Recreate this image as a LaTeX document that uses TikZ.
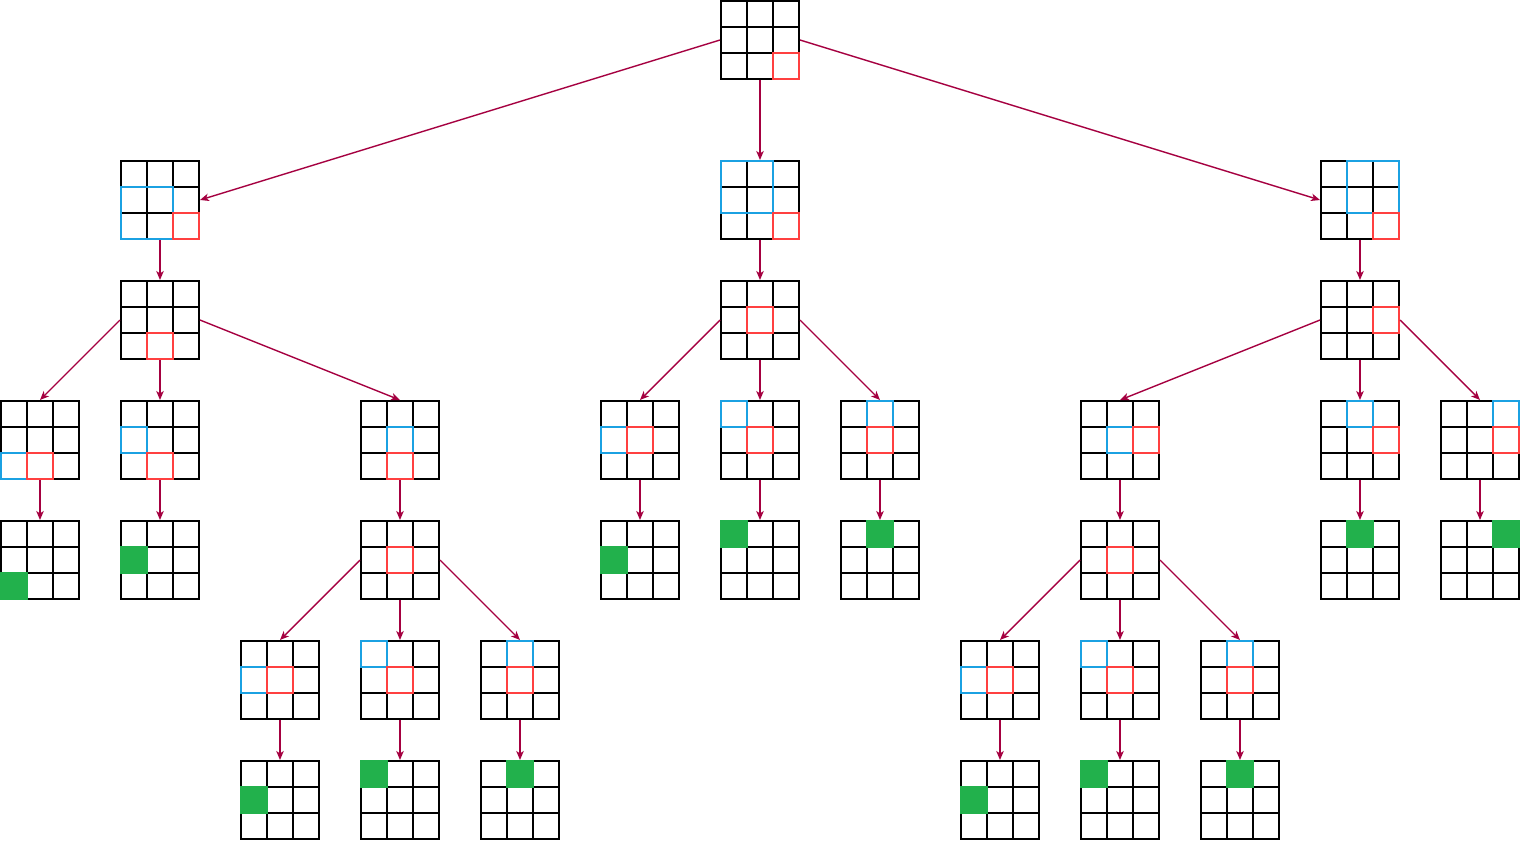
\documentclass[tikz,border=0pt]{standalone}
\usetikzlibrary{arrows.meta, positioning, calc}
\definecolor{edgewine}{RGB}{165, 0, 64}
\definecolor{cellred}{RGB}{255, 64, 64}
\definecolor{cellblue}{RGB}{27, 161, 226}
\definecolor{cellgreen}{RGB}{34, 177, 76}
\tikzset{
  >=Stealth,
  board/.style={draw, line width=2pt, minimum size=78pt, inner sep=0pt,
    path picture={
      \foreach \k in {-13,13} {
        \draw[line width=1.6pt] ([xshift=\k pt]path picture bounding box.north) -- ([xshift=\k pt]path picture bounding box.south);
        \draw[line width=1.6pt] ([yshift=\k pt]path picture bounding box.west) -- ([yshift=\k pt]path picture bounding box.east);
      }}},
  move/.style={-{Stealth[length=9pt, width=7.5pt, inset=2.5pt]}, line width=1.4pt, edgewine},
  redcell/.style={draw=cellred, line width=2pt},
  bluecell/.style={draw=cellblue, line width=2pt},
  greencell/.style={fill=cellgreen, draw=cellgreen, line width=1.2pt}
}
% cell (col,row) of a board, row 0 on top; optional size in cells
\newcommand{\cellat}[5][1]{\draw[#5] ($(#2.center)+(-39+26*#3,-39+26*#4)$) rectangle +(26*#1,26*#1);}

\begin{document}
\begin{tikzpicture}[x=1pt, y=-1pt]
    \useasboundingbox (0,0) rectangle (1521,841);
    % top and first split
    \node (root) [board] at (760,40) {};
    \node (a1) [board] at (160,200) {};
    \node (b1) [board, below=80pt of root] {};
    \node (c1) [board] at (1360,200) {};
    \node (a2) [board, below=40pt of a1] {};
    \node (b2) [board, below=40pt of b1] {};
    \node (c2) [board, below=40pt of c1] {};
    % left branch
    \node (a3m) [board, below=40pt of a2] {};
    \node (a3l) [board, left=40pt of a3m] {};
    \node (a3r) [board, right=160pt of a3m] {};
    \node (a4l) [board, below=40pt of a3l] {};
    \node (a4m) [board, below=40pt of a3m] {};
    \node (a4r) [board, below=40pt of a3r] {};
    \node (a5m) [board, below=40pt of a4r] {};
    \node (a5l) [board, left=40pt of a5m] {};
    \node (a5r) [board, right=40pt of a5m] {};
    \node (a6l) [board, below=40pt of a5l] {};
    \node (a6m) [board, below=40pt of a5m] {};
    \node (a6r) [board, below=40pt of a5r] {};
    % middle branch
    \node (b3m) [board, below=40pt of b2] {};
    \node (b3l) [board, left=40pt of b3m] {};
    \node (b3r) [board, right=40pt of b3m] {};
    \node (b4l) [board, below=40pt of b3l] {};
    \node (b4m) [board, below=40pt of b3m] {};
    \node (b4r) [board, below=40pt of b3r] {};
    % right branch
    \node (c3m) [board, below=40pt of c2] {};
    \node (c3l) [board, left=160pt of c3m] {};
    \node (c3r) [board, right=40pt of c3m] {};
    \node (c4l) [board, below=40pt of c3l] {};
    \node (c4m) [board, below=40pt of c3m] {};
    \node (c4r) [board, below=40pt of c3r] {};
    \node (c5m) [board, below=40pt of c4l] {};
    \node (c5l) [board, left=40pt of c5m] {};
    \node (c5r) [board, right=40pt of c5m] {};
    \node (c6l) [board, below=40pt of c5l] {};
    \node (c6m) [board, below=40pt of c5m] {};
    \node (c6r) [board, below=40pt of c5r] {};

    % blue regions
    \cellat[2]{a1}{0}{1}{bluecell}
    \cellat[2]{b1}{0}{0}{bluecell}
    \cellat[2]{c1}{1}{0}{bluecell}
    \cellat{a3l}{0}{2}{bluecell}
    \cellat{a3m}{0}{1}{bluecell}
    \cellat{a3r}{1}{1}{bluecell}
    \cellat{b3l}{0}{1}{bluecell}
    \cellat{b3m}{0}{0}{bluecell}
    \cellat{b3r}{1}{0}{bluecell}
    \cellat{c3l}{1}{1}{bluecell}
    \cellat{c3m}{1}{0}{bluecell}
    \cellat{c3r}{2}{0}{bluecell}
    \cellat{a5l}{0}{1}{bluecell}
    \cellat{a5m}{0}{0}{bluecell}
    \cellat{a5r}{1}{0}{bluecell}
    \cellat{c5l}{0}{1}{bluecell}
    \cellat{c5m}{0}{0}{bluecell}
    \cellat{c5r}{1}{0}{bluecell}
    % red cells
    \cellat{root}{2}{2}{redcell}
    \cellat{a1}{2}{2}{redcell}
    \cellat{b1}{2}{2}{redcell}
    \cellat{c1}{2}{2}{redcell}
    \cellat{a2}{1}{2}{redcell}
    \cellat{b2}{1}{1}{redcell}
    \cellat{c2}{2}{1}{redcell}
    \cellat{a3l}{1}{2}{redcell}
    \cellat{a3m}{1}{2}{redcell}
    \cellat{a3r}{1}{2}{redcell}
    \cellat{b3l}{1}{1}{redcell}
    \cellat{b3m}{1}{1}{redcell}
    \cellat{b3r}{1}{1}{redcell}
    \cellat{c3l}{2}{1}{redcell}
    \cellat{c3m}{2}{1}{redcell}
    \cellat{c3r}{2}{1}{redcell}
    \cellat{a4r}{1}{1}{redcell}
    \cellat{c4l}{1}{1}{redcell}
    \cellat{a5l}{1}{1}{redcell}
    \cellat{a5m}{1}{1}{redcell}
    \cellat{a5r}{1}{1}{redcell}
    \cellat{c5l}{1}{1}{redcell}
    \cellat{c5m}{1}{1}{redcell}
    \cellat{c5r}{1}{1}{redcell}
    % green cells
    \cellat{a4l}{0}{2}{greencell}
    \cellat{a4m}{0}{1}{greencell}
    \cellat{b4l}{0}{1}{greencell}
    \cellat{b4m}{0}{0}{greencell}
    \cellat{b4r}{1}{0}{greencell}
    \cellat{c4m}{1}{0}{greencell}
    \cellat{c4r}{2}{0}{greencell}
    \cellat{a6l}{0}{1}{greencell}
    \cellat{a6m}{0}{0}{greencell}
    \cellat{a6r}{1}{0}{greencell}
    \cellat{c6l}{0}{1}{greencell}
    \cellat{c6m}{0}{0}{greencell}
    \cellat{c6r}{1}{0}{greencell}

    % moves
    \draw[move] (root.west) -- (a1.east);
    \draw[move] (root.south) -- (b1.north);
    \draw[move] (root.east) -- (c1.west);
    \draw[move] (a1.south) -- (a2.north);
    \draw[move] (b1.south) -- (b2.north);
    \draw[move] (c1.south) -- (c2.north);
    \draw[move] (a2.west) -- (a3l.north);
    \draw[move] (a2.south) -- (a3m.north);
    \draw[move] (a2.east) -- (a3r.north);
    \draw[move] (b2.west) -- (b3l.north);
    \draw[move] (b2.south) -- (b3m.north);
    \draw[move] (b2.east) -- (b3r.north);
    \draw[move] (c2.west) -- (c3l.north);
    \draw[move] (c2.south) -- (c3m.north);
    \draw[move] (c2.east) -- (c3r.north);
    \draw[move] (a3l.south) -- (a4l.north);
    \draw[move] (a3m.south) -- (a4m.north);
    \draw[move] (a3r.south) -- (a4r.north);
    \draw[move] (b3l.south) -- (b4l.north);
    \draw[move] (b3m.south) -- (b4m.north);
    \draw[move] (b3r.south) -- (b4r.north);
    \draw[move] (c3l.south) -- (c4l.north);
    \draw[move] (c3m.south) -- (c4m.north);
    \draw[move] (c3r.south) -- (c4r.north);
    \draw[move] (a4r.west) -- (a5l.north);
    \draw[move] (a4r.south) -- (a5m.north);
    \draw[move] (a4r.east) -- (a5r.north);
    \draw[move] (c4l.west) -- (c5l.north);
    \draw[move] (c4l.south) -- (c5m.north);
    \draw[move] (c4l.east) -- (c5r.north);
    \draw[move] (a5l.south) -- (a6l.north);
    \draw[move] (a5m.south) -- (a6m.north);
    \draw[move] (a5r.south) -- (a6r.north);
    \draw[move] (c5l.south) -- (c6l.north);
    \draw[move] (c5m.south) -- (c6m.north);
    \draw[move] (c5r.south) -- (c6r.north);
\end{tikzpicture}
\end{document}
